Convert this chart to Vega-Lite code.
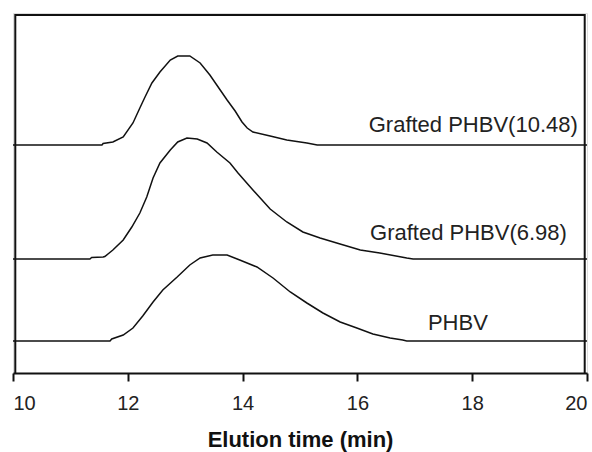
{
  "$schema": "https://vega.github.io/schema/vega-lite/v6.json",
  "autosize": "none",
  "width": 574,
  "height": 360,
  "padding": {"left": 13, "top": 13, "right": 5, "bottom": 79},
  "background": "white",
  "config": {
    "font": "Liberation Sans"
  },
  "datasets": {
    "curves": [
      {"series": "g1048", "t": 10.0, "s": 228},
      {"series": "g1048", "t": 11.55, "s": 228},
      {"series": "g1048", "t": 11.57, "s": 229.5},
      {"series": "g1048", "t": 11.74, "s": 231},
      {"series": "g1048", "t": 11.92, "s": 236},
      {"series": "g1048", "t": 12.09, "s": 250},
      {"series": "g1048", "t": 12.21, "s": 265},
      {"series": "g1048", "t": 12.3, "s": 276},
      {"series": "g1048", "t": 12.42, "s": 290},
      {"series": "g1048", "t": 12.56, "s": 301},
      {"series": "g1048", "t": 12.74, "s": 313},
      {"series": "g1048", "t": 12.87, "s": 317},
      {"series": "g1048", "t": 13.08, "s": 317},
      {"series": "g1048", "t": 13.26, "s": 310},
      {"series": "g1048", "t": 13.43, "s": 298},
      {"series": "g1048", "t": 13.61, "s": 283},
      {"series": "g1048", "t": 13.73, "s": 273},
      {"series": "g1048", "t": 13.87, "s": 262},
      {"series": "g1048", "t": 13.99, "s": 251},
      {"series": "g1048", "t": 14.08, "s": 245},
      {"series": "g1048", "t": 14.18, "s": 241},
      {"series": "g1048", "t": 14.48, "s": 237},
      {"series": "g1048", "t": 14.77, "s": 233},
      {"series": "g1048", "t": 15.12, "s": 230},
      {"series": "g1048", "t": 15.3, "s": 228},
      {"series": "g1048", "t": 20.0, "s": 228},
      {"series": "g698", "t": 10.0, "s": 114},
      {"series": "g698", "t": 11.34, "s": 114},
      {"series": "g698", "t": 11.37, "s": 115.5},
      {"series": "g698", "t": 11.57, "s": 116},
      {"series": "g698", "t": 11.6, "s": 116.5},
      {"series": "g698", "t": 11.74, "s": 123},
      {"series": "g698", "t": 11.92, "s": 133},
      {"series": "g698", "t": 12.07, "s": 146},
      {"series": "g698", "t": 12.21, "s": 160},
      {"series": "g698", "t": 12.33, "s": 176},
      {"series": "g698", "t": 12.44, "s": 195},
      {"series": "g698", "t": 12.56, "s": 210},
      {"series": "g698", "t": 12.74, "s": 223},
      {"series": "g698", "t": 12.87, "s": 231},
      {"series": "g698", "t": 13.03, "s": 235},
      {"series": "g698", "t": 13.21, "s": 234},
      {"series": "g698", "t": 13.38, "s": 230},
      {"series": "g698", "t": 13.55, "s": 221},
      {"series": "g698", "t": 13.78, "s": 210},
      {"series": "g698", "t": 13.92, "s": 200},
      {"series": "g698", "t": 14.18, "s": 183},
      {"series": "g698", "t": 14.48, "s": 164},
      {"series": "g698", "t": 14.77, "s": 151},
      {"series": "g698", "t": 15.05, "s": 141},
      {"series": "g698", "t": 15.35, "s": 135},
      {"series": "g698", "t": 15.64, "s": 130},
      {"series": "g698", "t": 16.05, "s": 123},
      {"series": "g698", "t": 16.39, "s": 120},
      {"series": "g698", "t": 16.86, "s": 115},
      {"series": "g698", "t": 16.97, "s": 114},
      {"series": "g698", "t": 20.0, "s": 114},
      {"series": "phbv", "t": 10.0, "s": 32},
      {"series": "phbv", "t": 11.69, "s": 32},
      {"series": "phbv", "t": 11.72, "s": 34},
      {"series": "phbv", "t": 11.92, "s": 38},
      {"series": "phbv", "t": 12.09, "s": 45},
      {"series": "phbv", "t": 12.26, "s": 57},
      {"series": "phbv", "t": 12.44, "s": 71},
      {"series": "phbv", "t": 12.61, "s": 83},
      {"series": "phbv", "t": 12.86, "s": 96},
      {"series": "phbv", "t": 13.08, "s": 108},
      {"series": "phbv", "t": 13.26, "s": 115},
      {"series": "phbv", "t": 13.48, "s": 118},
      {"series": "phbv", "t": 13.73, "s": 118},
      {"series": "phbv", "t": 13.95, "s": 113},
      {"series": "phbv", "t": 14.25, "s": 106},
      {"series": "phbv", "t": 14.53, "s": 95},
      {"series": "phbv", "t": 14.83, "s": 81},
      {"series": "phbv", "t": 15.12, "s": 70},
      {"series": "phbv", "t": 15.4, "s": 60},
      {"series": "phbv", "t": 15.7, "s": 51},
      {"series": "phbv", "t": 15.99, "s": 45},
      {"series": "phbv", "t": 16.27, "s": 39},
      {"series": "phbv", "t": 16.57, "s": 35},
      {"series": "phbv", "t": 16.79, "s": 33},
      {"series": "phbv", "t": 16.86, "s": 32},
      {"series": "phbv", "t": 20.0, "s": 32}
    ],
    "labelsRight": [
      {"label": "Grafted PHBV(10.48)", "t": 19.84, "s": 241},
      {"label": "Grafted PHBV(6.98)", "t": 19.65, "s": 133}
    ],
    "labelsCenter": [
      {"label": "PHBV", "t": 17.75, "s": 43}
    ],
    "frame": [
      {"k": 1, "t": 10.04, "s": 0},
      {"k": 2, "t": 10.04, "s": 358},
      {"k": 3, "t": 19.96, "s": 358},
      {"k": 4, "t": 19.96, "s": 0}
    ]
  },
  "layer": [
    {
      "data": {"name": "frame"},
      "mark": {"type": "line", "color": "#111", "strokeWidth": 2},
      "encoding": {
        "x": {
          "field": "t", "type": "quantitative",
          "scale": {"domain": [10, 20], "nice": false, "zero": false},
          "axis": {
            "title": "Elution time (min)",
            "values": [10, 12, 14, 16, 18, 20],
            "format": "d",
            "grid": false,
            "domainColor": "#111", "domainWidth": 2,
            "tickColor": "#111", "tickWidth": 2, "tickSize": 8,
            "labelFont": "Liberation Sans", "labelFontSize": 20, "labelColor": "#222",
            "labelPadding": 12, "labelFlush": true,
            "titleFont": "Liberation Sans", "titleFontSize": 22, "titleFontWeight": "bold",
            "titleColor": "#111", "titlePadding": 16
          }
        },
        "y": {
          "field": "s", "type": "quantitative",
          "scale": {"domain": [0, 360], "nice": false},
          "axis": null
        },
        "order": {"field": "k", "type": "quantitative"}
      }
    },
    {
      "data": {"name": "curves"},
      "mark": {"type": "line", "color": "#111", "strokeWidth": 1.5},
      "encoding": {
        "x": {"field": "t", "type": "quantitative"},
        "y": {"field": "s", "type": "quantitative"},
        "detail": {"field": "series"}
      }
    },
    {
      "data": {"name": "labelsRight"},
      "mark": {"type": "text", "font": "Liberation Sans", "fontSize": 22, "color": "#222", "baseline": "alphabetic", "align": "right"},
      "encoding": {
        "x": {"field": "t", "type": "quantitative"},
        "y": {"field": "s", "type": "quantitative"},
        "text": {"field": "label"}
      }
    },
    {
      "data": {"name": "labelsCenter"},
      "mark": {"type": "text", "font": "Liberation Sans", "fontSize": 22, "color": "#222", "baseline": "alphabetic", "align": "center"},
      "encoding": {
        "x": {"field": "t", "type": "quantitative"},
        "y": {"field": "s", "type": "quantitative"},
        "text": {"field": "label"}
      }
    }
  ]
}
